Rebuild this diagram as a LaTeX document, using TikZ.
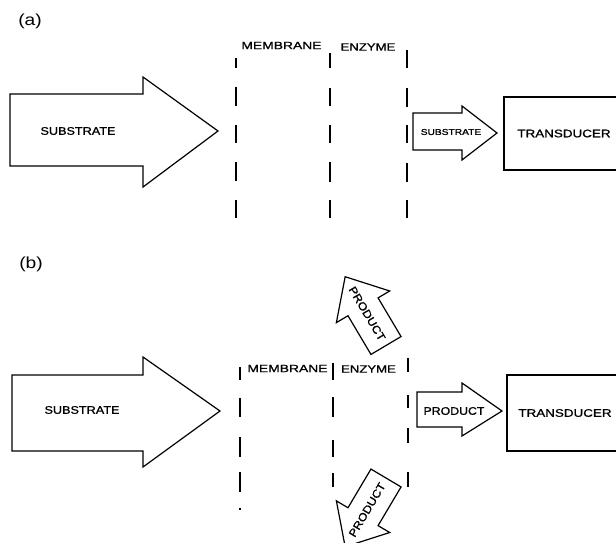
\documentclass[tikz,border=0pt]{standalone}
\usepackage{fontspec}
\setmainfont{Liberation Sans}[FakeBold=0.9]
\newfontfamily\panelfont{Liberation Sans}
\newcommand\hs[2]{\scalebox{#1}[1]{#2}}
\begin{document}
\begin{tikzpicture}[x=1pt,y=-1pt,
  outl/.style={draw=black, line width=1.2pt, line join=miter, fill=white},
  memline/.style={line width=1.5pt},
  lbl/.style={inner sep=0pt, outer sep=0pt},
  tbox/.style={draw, line width=1.2pt, inner sep=0pt},
  fbig/.style={font=\fontsize{11}{13}\selectfont},
  fmem/.style={font=\fontsize{10.5}{12}\selectfont},
  fsmall/.style={font=\fontsize{8.5}{10}\selectfont},
  ftilt/.style={font=\fontsize{11}{13}\selectfont},
  fpanel/.style={font=\panelfont\fontsize{16}{18}\selectfont},
]
\clip (0,0) rectangle (616,543);
\useasboundingbox (0,0) rectangle (616,543);

% ---------------- panel (a) ----------------
\node[lbl, fpanel] (pa) at (30,21.5) {\hs{1.2}{(a)}};

\draw[outl] (10,94) -- (143,94) -- (143,77) -- (218,131) -- (143,187) -- (143,166) -- (10,166) -- cycle;
\node[lbl, fbig] (subA) at (78,131) {\hs{1.15}{SUBSTRATE}};

\draw[memline] (236,58)--(236,68) (236,87)--(236,105.5) (236,124.5)--(236,143) (236,162)--(236,180.5) (236,199.5)--(236,218);
\draw[memline] (330,53)--(330,68) (330,88)--(330,106) (330,125)--(330,143) (330,162)--(330,182) (330,200)--(330,218);
\draw[memline] (407,50)--(407,68) (407,88)--(407,107) (407,125)--(407,143) (407,163)--(407,182) (407,200)--(407,218);

\node[lbl, fmem] (memA) at (281.5,45.5) {\hs{1.32}{MEMBRANE}};
\node[lbl, fmem] (enzA) at (368,47) {\hs{1.25}{ENZYME}};

\draw[outl] (413,113) -- (462,113) -- (462,106) -- (497,133) -- (462,160) -- (462,150) -- (413,150) -- cycle;
\node[lbl, fsmall] (ssubA) at (451,132) {\hs{1.2}{SUBSTRATE}};

\node[tbox, fbig, minimum width=120pt, minimum height=73pt] (tdA) at (564,133.5) {\hs{1.22}{TRANSDUCER}};

% ---------------- panel (b) ----------------
\node[lbl, fpanel] (pb) at (31,264) {\hs{1.2}{(b)}};

\draw[outl] (12,375) -- (143,375) -- (143,357) -- (220,411) -- (143,467) -- (143,451) -- (12,451) -- cycle;
\node[lbl, fbig] (subB) at (82,410) {\hs{1.15}{SUBSTRATE}};

\draw[memline] (240,367)--(240,380) (240,398)--(240,417) (240,437)--(240,457) (240,472)--(240,492) (240,508)--(240,510);
\draw[memline] (333,363)--(333,380) (333,397)--(333,417) (333,440)--(333,457) (333,473)--(333,487);
\draw[memline] (408,358)--(408,372) (408,395)--(408,408) (408,428)--(408,443) (408,472)--(408,487);

\node[lbl, fmem] (memB) at (287.5,368.5) {\hs{1.32}{MEMBRANE}};
\node[lbl, fmem] (enzB) at (368.5,369) {\hs{1.25}{ENZYME}};

\draw[outl] (417,392) -- (462,392) -- (462,383) -- (502,411) -- (462,436) -- (462,427) -- (417,427) -- cycle;
\node[lbl, ftilt] (prodR) at (454,411) {\hs{1.12}{PRODUCT}};

\node[tbox, fbig, minimum width=116pt, minimum height=76pt] (tdB) at (565,413) {\hs{1.22}{TRANSDUCER}};

% tilted product arrows
\begin{scope}[shift={(386,345.5)}, rotate=120.7]
  \draw[outl] (0,17.5) -- (45,17.5) -- (45,31) -- (80,0) -- (45,-31) -- (45,-17.5) -- (0,-17.5) -- cycle;
  \node[lbl, ftilt, rotate=-59.3] (prodU) at (37,0) {\hs{1.12}{PRODUCT}};
\end{scope}
\begin{scope}[shift={(386,478)}, rotate=-120.7]
  \draw[outl] (0,17.5) -- (45,17.5) -- (45,31) -- (80,0) -- (45,-31) -- (45,-17.5) -- (0,-17.5) -- cycle;
  \node[lbl, ftilt, rotate=59.3] (prodD) at (37,0) {\hs{1.12}{PRODUCT}};
\end{scope}
\end{tikzpicture}
\end{document}
